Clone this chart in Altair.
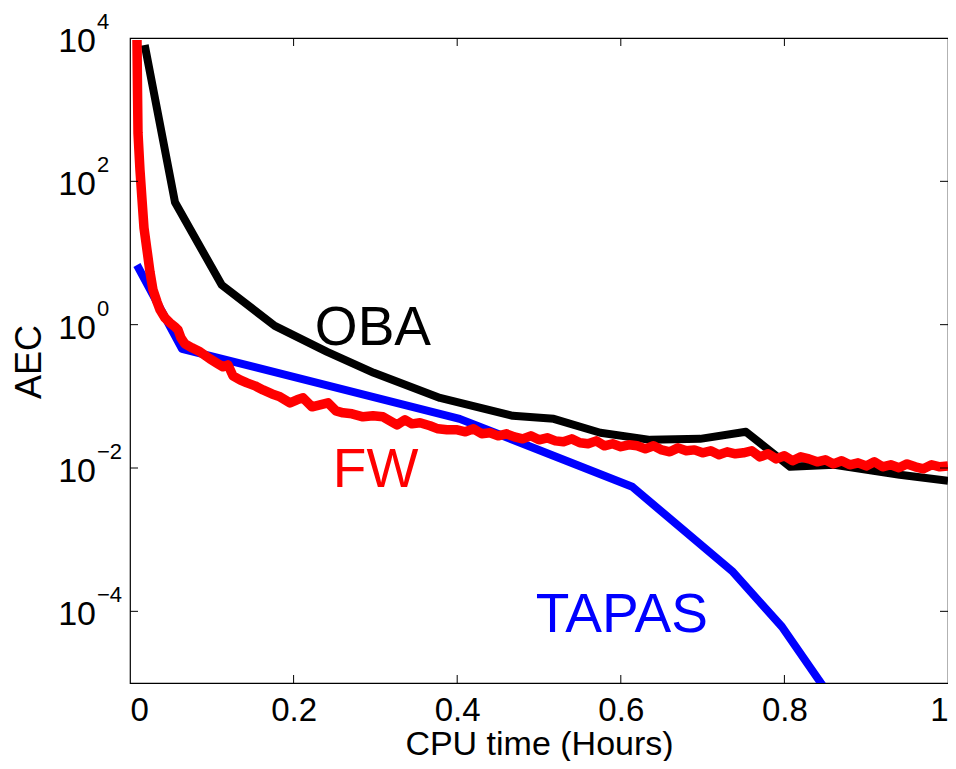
import altair as alt
import pandas as pd

FONT = "Liberation Sans"

# ---- data ----
oba_t = [0.018, 0.055, 0.112, 0.177, 0.241, 0.298, 0.379, 0.468, 0.518, 0.575,
         0.636, 0.697, 0.753, 0.807, 0.861, 0.941, 1.0]
oba_aec = [8000, 51, 3.6, 0.96, 0.417, 0.213, 0.095, 0.0535, 0.0485, 0.031,
           0.0247, 0.0255, 0.032, 0.0104, 0.0111, 0.00803, 0.00662]

tapas_t = [0.0085, 0.0636, 0.403, 0.614, 0.737, 0.797, 0.856]
tapas_aec = [6.8, 0.46, 0.0485, 0.00547, 3.56e-4, 6.1e-5, 6.5e-6]

fw_t = [0.00856, 0.00917, 0.00978, 0.0122, 0.0147, 0.0171, 0.0208, 0.0244, 0.0281, 0.0330,
        0.0367, 0.0428, 0.0489, 0.0550, 0.0587, 0.0623, 0.0672, 0.0758, 0.0856, 0.0978,
        0.1076, 0.1137, 0.1198, 0.1259, 0.1345, 0.1430, 0.1528, 0.1626, 0.1736, 0.1834,
        0.1956, 0.2042, 0.2115, 0.2225, 0.2323, 0.2421, 0.2518, 0.2604, 0.2714, 0.2848,
        0.2971, 0.3093, 0.3178, 0.3264, 0.3362, 0.3447, 0.3545, 0.3667, 0.3765, 0.3875,
        0.40, 0.41, 0.42, 0.43, 0.44, 0.45, 0.46, 0.47, 0.48, 0.49,
        0.50, 0.51, 0.52, 0.53, 0.54, 0.55, 0.56, 0.57, 0.58, 0.59,
        0.60, 0.61, 0.62, 0.63, 0.64, 0.65, 0.66, 0.67, 0.68, 0.69,
        0.70, 0.71, 0.72, 0.73, 0.74, 0.75, 0.76, 0.77, 0.78, 0.79,
        0.80, 0.81, 0.82, 0.83, 0.84, 0.85, 0.86, 0.87, 0.88, 0.89,
        0.90, 0.91, 0.92, 0.93, 0.94, 0.95, 0.96, 0.97, 0.98, 0.99, 1.00]
fw_aec = [9380, 1883, 473, 144, 55.1, 22.4, 11.0, 5.45, 3.06, 2.08,
          1.61, 1.24, 1.06, 0.931, 0.846, 0.654, 0.540, 0.475, 0.418, 0.333,
          0.284, 0.258, 0.275, 0.193, 0.170, 0.154, 0.140, 0.123, 0.108, 0.0984,
          0.0811, 0.0894, 0.0953, 0.0714, 0.0761, 0.0811, 0.0628, 0.0589, 0.0570, 0.0518,
          0.0535, 0.0518, 0.0455, 0.0400, 0.0470, 0.0413, 0.0427, 0.0388, 0.0352, 0.0341,
          0.0341, 0.0320, 0.0352, 0.0300, 0.0310, 0.0281, 0.0300, 0.0272, 0.0255, 0.0281,
          0.0247, 0.0264, 0.0239, 0.0232, 0.0255, 0.0225, 0.0218, 0.0239, 0.0204, 0.0218,
          0.0198, 0.0211, 0.0204, 0.0185, 0.0204, 0.0179, 0.0168, 0.0191, 0.0174, 0.0179,
          0.0163, 0.0174, 0.0153, 0.0168, 0.0158, 0.0163, 0.0174, 0.0143, 0.0158, 0.0134,
          0.0148, 0.0126, 0.0143, 0.0134, 0.0122, 0.0130, 0.0114, 0.0126, 0.0111, 0.0118,
          0.0107, 0.0122, 0.0104, 0.0111, 0.0101, 0.0114, 0.0104, 0.00974, 0.0111, 0.0104,
          0.0107]

x_ticks = [0, 0.2, 0.4, 0.6, 0.8, 1.0]
y_ticks = [1e4, 1e2, 1, 1e-2, 1e-4]
y_exp = ["4", "2", "0", "\u22122", "\u22124"]

labels = ["OBA", "FW", "TAPAS"]
label_t = [0.226, 0.248, 0.496]
label_aec = [0.52, 0.00547, 5.19e-5]
label_col = ["#000000", "#ff0000", "#0000ff"]

# ---- chart ----
xs = alt.Scale(domain=[0, 1], nice=False, zero=False)
ys = alt.Scale(type="log", domain=[1e-5, 1e4], nice=False)

x_axis = alt.Axis(values=x_ticks, format=".1~f", labelFontSize=33, labelFont=FONT,
                  labelColor="black", labelPadding=11, ticks=False, domain=False,
                  grid=False, title="CPU time (Hours)", titleFontSize=34, titleFont=FONT,
                  titleFontWeight="normal", titleColor="black", titleY=71,
                  titleBaseline="alphabetic")
y_axis = alt.Axis(values=y_ticks, labels=False, ticks=False, domain=False, grid=False,
                  title="AEC", titleFontSize=36, titleFont=FONT, titleFontWeight="normal",
                  titleColor="black", titleX=-90, titleY=323.5, titleAngle=270,
                  titleBaseline="alphabetic", titleAlign="center")


def X():
    return alt.X("t:Q", scale=xs, axis=x_axis)


def Y():
    return alt.Y("aec:Q", scale=ys, axis=y_axis)


def line(ts, vals, color, sw):
    df = pd.DataFrame({"t": ts, "aec": vals})
    return alt.Chart(df).mark_line(color=color, strokeWidth=sw, clip=True,
                                   strokeJoin="round").encode(x=X(), y=Y())


oba = line(oba_t, oba_aec, "#000000", 8)
tapas = line(tapas_t, tapas_aec, "#0000ff", 8)
fw = line(fw_t, fw_aec, "#ff0000", 9.5)

ann_df = pd.DataFrame({"t": label_t, "aec": label_aec, "txt": labels, "col": label_col})
ann = alt.Chart(ann_df).mark_text(align="left", baseline="alphabetic", fontSize=55,
                                  font=FONT).encode(
    x=X(), y=Y(), text="txt:N", color=alt.Color("col:N", scale=None))

xt_df = pd.DataFrame({"t": x_ticks[1:-1]})
yt_df = pd.DataFrame({"aec": y_ticks[1:]})
tick_bottom = alt.Chart(xt_df).mark_rule(color="black", strokeWidth=1).encode(
    x=X(), y=alt.value(645), y2=alt.value(637))
tick_top = alt.Chart(xt_df).mark_rule(color="black", strokeWidth=1).encode(
    x=X(), y=alt.value(0), y2=alt.value(8))
tick_left = alt.Chart(yt_df).mark_rule(color="black", strokeWidth=1).encode(
    y=Y(), x=alt.value(0), x2=alt.value(8))
tick_right = alt.Chart(yt_df).mark_rule(color="black", strokeWidth=1).encode(
    y=Y(), x=alt.value(818), x2=alt.value(810))

ylab_df = pd.DataFrame({"aec": y_ticks, "base": ["10"] * len(y_ticks), "exp": y_exp})
ylab_base = alt.Chart(ylab_df).mark_text(align="right", baseline="alphabetic", dy=14,
                                         fontSize=34, font=FONT, color="black").encode(
    y=Y(), x=alt.value(-34), text="base:N")
ylab_exp = alt.Chart(ylab_df).mark_text(align="left", baseline="alphabetic", dy=-9,
                                        fontSize=22, font=FONT, color="black").encode(
    y=Y(), x=alt.value(-33), text="exp:N")

chart = alt.layer(
    oba, tapas, fw, ann, tick_bottom, tick_top, tick_left, tick_right, ylab_base, ylab_exp
).properties(
    width=818, height=645,
    autosize=alt.AutoSizeParams(type="none"),
    padding={"left": 122, "top": 30, "right": 0, "bottom": 78},
    background="white",
).configure_view(stroke="black", strokeWidth=1.2)

chart.save("out.html", embed_options={"renderer": "svg", "actions": False})
